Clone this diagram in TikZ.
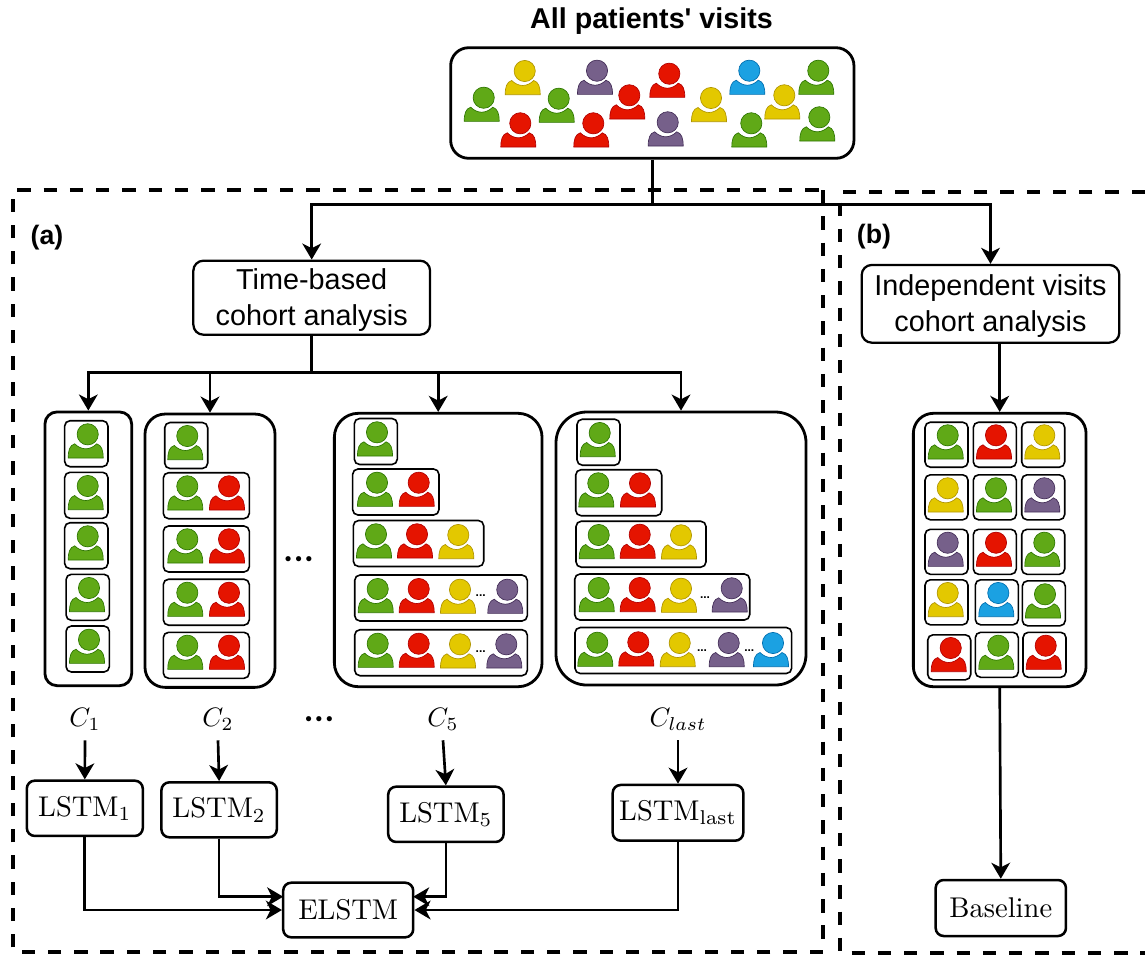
\documentclass[tikz,border=0pt]{standalone}
\usepackage{amsmath,amsfonts,amssymb}
\usepackage{fontspec}
\setsansfont{Liberation Sans}
\usepackage{tikz}
\usetikzlibrary{arrows.meta}

\definecolor{pgreen}{HTML}{60A917}
\definecolor{pgreend}{HTML}{2D7600}
\definecolor{pred}{HTML}{E51400}
\definecolor{predd}{HTML}{B20000}
\definecolor{pyellow}{HTML}{E3C800}
\definecolor{pyellowd}{HTML}{B09500}
\definecolor{ppurple}{HTML}{76608A}
\definecolor{ppurpled}{HTML}{432D57}
\definecolor{pblue}{HTML}{1BA1E2}
\definecolor{pblued}{HTML}{006EAF}

\newcommand{\lm}[1]{\scalebox{2.14}{#1}}
\newcommand{\cl}[1]{\scalebox{2}{#1}}

\tikzset{
	pics/patient/.style={code={
		\draw[draw=#1d,fill=#1,line width=0.5pt] (0,0) circle[radius=10.6];
		\draw[draw=#1d,fill=#1,line width=0.5pt] (-19.5,23.7) .. controls (-19.5,16) and (-18,11) .. (-13,9.5) .. controls (-10,12.5) and (-6,14.5) .. (-2,14.5) .. controls (2,14.5) and (6,12.5) .. (9,9.5) .. controls (14,11) and (15.5,16) .. (15.5,23.7) -- cycle;
	}}
}

\begin{document}
\begin{tikzpicture}[x=0.75pt,y=-0.75pt,
		box_size/.style 2 args={minimum width=#1*0.75pt,minimum height=#2*0.75pt},
		group_style/.style={draw=black,line width=2.1pt,inner sep=0pt},
		row_style/.style={draw=black,line width=1.2pt,rounded corners=4pt,inner sep=0pt},
		sans_style/.style={draw=black,line width=1.7pt,rounded corners=7.5pt,inner sep=0pt,align=center,font=\fontsize{21.6pt}{27pt}\selectfont\sffamily},
		lstm_style/.style={draw=black,line width=1.9pt,rounded corners=6pt,inner sep=0pt},
		label_style/.style={inner sep=0pt,minimum height=31.5pt},
		head_style/.style={inner sep=0pt,font=\fontsize{#1}{24pt}\selectfont\sffamily\bfseries},
		more_style/.style={inner sep=0pt,anchor=base,font=\fontsize{10pt}{12pt}\selectfont},
		tiny_style/.style={inner sep=0pt,font=\fontsize{9pt}{10pt}\selectfont\sffamily\bfseries},
		dash_style/.style={draw=black,line width=2.8pt,dash pattern=on 10pt off 9.7pt},
		edge_style/.style={draw=black,line width=2pt},
		arrow_style/.style={draw=black,line width=2pt,-{Stealth[length=12pt,width=14pt,inset=3.5pt]}}]

		\useasboundingbox (0,0) rectangle (1145,954);

		% dashed frames
		\draw[dash_style] (823,190) rectangle (13,951.7);
		\draw[dash_style] (1145,192.3) -- (840,192.3) -- (840,952.7) -- (1145,952.7);

		\node[head_style=21.5pt] (title) at (651.5,21.5) {All patients\textquotesingle{} visits};
		\node[head_style=20pt] (a) at (47,238) {(a)};
		\node[head_style=20pt] (b) at (874,237) {(b)};

		\node[group_style,rounded corners=13.5pt,box_size={403.3}{110.6}] (all) at (652.3,103) {};
		\node[sans_style,box_size={236.7}{74}] (time) at (311.7,297.7) {\rule{0pt}{18.5pt}Time-based\\cohort analysis};
		\node[sans_style,box_size={257.6}{77.7}] (indep) at (990.5,303.8) {\rule{0pt}{18.5pt}Independent visits\\cohort analysis};

		\node[group_style,rounded corners=9pt,box_size={86.7}{273.7}] (c1) at (88.3,548.8) {};
		\node[group_style,rounded corners=15pt,box_size={130}{273.3}] (c2) at (210,550.7) {};
		\node[group_style,rounded corners=18pt,box_size={207.7}{273.4}] (c5) at (438.2,550) {};
		\node[group_style,rounded corners=23pt,box_size={250}{273}] (clast) at (681,548.5) {};
		\node[group_style,rounded corners=15pt,box_size={172.7}{273.4}] (all_b) at (999.7,550) {};

		% first cohort
		\node[row_style,box_size={43.3}{46}] (r11) at (86.3,443.7) {};
		\node[row_style,box_size={43.3}{46}] (r12) at (86.3,495.3) {};
		\node[row_style,box_size={43.3}{46}] (r13) at (86.3,545.7) {};
		\node[row_style,box_size={43.3}{46}] (r14) at (87.7,597.3) {};
		\node[row_style,box_size={43.3}{46}] (r15) at (87.7,649) {};
		\pic at (87.7,434.3) {patient=pgreen};
		\pic at (87.7,486) {patient=pgreen};
		\pic at (87.7,536.3) {patient=pgreen};
		\pic at (89,588) {patient=pgreen};
		\pic at (89,639.7) {patient=pgreen};

		% second cohort
		\node[row_style,box_size={43}{46}] (r21) at (186.2,445.5) {};
		\node[row_style,box_size={86}{46}] (r22) at (206.3,495.7) {};
		\node[row_style,box_size={86}{46}] (r23) at (206.3,549) {};
		\node[row_style,box_size={86}{46}] (r24) at (206.3,602.2) {};
		\node[row_style,box_size={86}{46}] (r25) at (206.3,655.3) {};
		\pic at (187.3,436) {patient=pgreen};
		\pic at (187.3,486.3) {patient=pgreen};
		\pic at (229,486.3) {patient=pred};
		\pic at (187.3,539.3) {patient=pgreen};
		\pic at (229,539.3) {patient=pred};
		\pic at (187.3,592.7) {patient=pgreen};
		\pic at (229,592.7) {patient=pred};
		\pic at (187.3,645.7) {patient=pgreen};
		\pic at (229,645.7) {patient=pred};

		\node[more_style] (more1) at (298.7,562.3) {$\bullet\mkern1mu\bullet\mkern1mu\bullet$};

		% fifth cohort
		\node[row_style,box_size={43}{46}] (r51) at (375.8,441.5) {};
		\node[row_style,box_size={86.3}{46}] (r52) at (395.8,492) {};
		\node[row_style,box_size={130.4}{46}] (r53) at (418.5,543.5) {};
		\node[row_style,box_size={172.6}{46}] (r54) at (441,598) {};
		\node[row_style,box_size={172.6}{46}] (r55) at (441,652.7) {};
		\pic at (377,432.3) {patient=pgreen};
		\pic at (377,482.7) {patient=pgreen};
		\pic at (418.7,482.7) {patient=pred};
		\pic at (376,534.3) {patient=pgreen};
		\pic at (417,534.3) {patient=pred};
		\pic at (458.3,535) {patient=pyellow};
		\pic at (377.7,589) {patient=pgreen};
		\pic at (418.7,589) {patient=pred};
		\pic at (460,589.7) {patient=pyellow};
		\node[tiny_style] (d54) at (480.7,595.7) {...};
		\pic at (507.3,589.7) {patient=ppurple};
		\pic at (377.7,643.7) {patient=pgreen};
		\pic at (418.7,643.7) {patient=pred};
		\pic at (460,644.3) {patient=pyellow};
		\node[tiny_style] (d55) at (480.7,651.7) {...};
		\pic at (506.3,644.3) {patient=ppurple};

		% last cohort
		\node[row_style,box_size={43}{46}] (rl1) at (598.5,442.2) {};
		\node[row_style,box_size={86}{46}] (rl2) at (618.7,492.7) {};
		\node[row_style,box_size={130}{46}] (rl3) at (641,544.2) {};
		\node[row_style,box_size={175}{46}] (rl4) at (662.2,597) {};
		\node[row_style,box_size={216.7}{46}] (rl5) at (683.3,650.5) {};
		\pic at (599.7,433) {patient=pgreen};
		\pic at (598.3,483.3) {patient=pgreen};
		\pic at (640,483.3) {patient=pred};
		\pic at (598.7,535) {patient=pgreen};
		\pic at (639.7,534.7) {patient=pred};
		\pic at (681,535.3) {patient=pyellow};
		\pic at (598.7,588) {patient=pgreen};
		\pic at (639.7,588) {patient=pred};
		\pic at (681,588.7) {patient=pyellow};
		\node[tiny_style] (d64) at (705,597.3) {...};
		\pic at (731.7,588.3) {patient=ppurple};
		\pic at (597.3,642.7) {patient=pgreen};
		\pic at (638.3,642.3) {patient=pred};
		\pic at (679.7,643) {patient=pyellow};
		\node[tiny_style] (d65) at (702,650.3) {...};
		\pic at (728.7,643) {patient=ppurple};
		\node[tiny_style] (d66) at (749.3,650.3) {...};
		\pic at (773,643) {patient=pblue};

		% independent visits
		\node[row_style,box_size={43}{45}] (b11) at (946.5,444.7) {};
		\node[row_style,box_size={43}{45}] (b12) at (994.8,444.7) {};
		\node[row_style,box_size={43}{45}] (b13) at (1043.2,444.7) {};
		\node[row_style,box_size={43}{45}] (b21) at (946.5,497.3) {};
		\node[row_style,box_size={43}{45}] (b22) at (994.8,497.3) {};
		\node[row_style,box_size={43}{45}] (b23) at (1043.2,497.3) {};
		\node[row_style,box_size={43}{45}] (b31) at (946.5,551.8) {};
		\node[row_style,box_size={43}{45}] (b32) at (994.8,551.8) {};
		\node[row_style,box_size={43}{45}] (b33) at (1043.2,551.8) {};
		\node[row_style,box_size={43}{45}] (b41) at (946.5,602.3) {};
		\node[row_style,box_size={43}{45}] (b42) at (996.8,602.3) {};
		\node[row_style,box_size={43}{45}] (b43) at (1043.8,603.3) {};
		\node[row_style,box_size={43}{45}] (b51) at (949.2,657.3) {};
		\node[row_style,box_size={43}{45}] (b52) at (996.8,654.8) {};
		\node[row_style,box_size={43}{45}] (b53) at (1044.5,654.8) {};
		\pic at (947.7,435.3) {patient=pgreen};
		\pic at (996,435.3) {patient=pred};
		\pic at (1044.3,435.3) {patient=pyellow};
		\pic at (947.7,488.3) {patient=pyellow};
		\pic at (996,488.3) {patient=pgreen};
		\pic at (1044.3,488.3) {patient=ppurple};
		\pic at (947.7,542.7) {patient=ppurple};
		\pic at (996,542.7) {patient=pred};
		\pic at (1044.3,542.7) {patient=pgreen};
		\pic at (947.7,593) {patient=pyellow};
		\pic at (998.3,593) {patient=pblue};
		\pic at (1045,594.3) {patient=pgreen};
		\pic at (950.7,648) {patient=pred};
		\pic at (998.3,645.7) {patient=pgreen};
		\pic at (1045.7,645.7) {patient=pred};

		% all visits
		\pic at (483.7,97.7) {patient=pgreen};
		\pic at (524.7,71) {patient=pyellow};
		\pic at (558.7,98.7) {patient=pgreen};
		\pic at (520.3,123.3) {patient=pred};
		\pic at (597,70.7) {patient=ppurple};
		\pic at (593.3,123.3) {patient=pred};
		\pic at (629.3,95.3) {patient=pred};
		\pic at (669.3,73.7) {patient=pred};
		\pic at (667.7,122.3) {patient=ppurple};
		\pic at (711,98) {patient=pyellow};
		\pic at (749.3,70.7) {patient=pblue};
		\pic at (784.3,95.3) {patient=pyellow};
		\pic at (818.3,70.7) {patient=pgreen};
		\pic at (751.3,123.3) {patient=pgreen};
		\pic at (819.3,117.3) {patient=pgreen};

		% models
		\node[label_style] (l1) at (85,719) {\cl{$C_1$}};
		\node[label_style] (l2) at (218,719) {\cl{$C_2$}};
		\node[more_style] (more2) at (319,722.6) {$\bullet\mkern1mu\bullet\mkern1mu\bullet$};
		\node[label_style] (l5) at (443,719) {\cl{$C_5$}};
		\node[label_style] (l6) at (678,719) {\cl{$C_{last}$}};

		\node[lstm_style,box_size={116}{55.3}] (lstm1) at (84.8,808.3) {\lm{$\mathrm{LSTM}_1$}};
		\node[lstm_style,box_size={115.4}{55}] (lstm2) at (219.1,809.8) {\lm{$\mathrm{LSTM}_2$}};
		\node[lstm_style,box_size={115.4}{55.3}] (lstm5) at (445.9,814.3) {\lm{$\mathrm{LSTM}_5$}};
		\node[lstm_style,box_size={130.6}{55.7}] (lstm6) at (678,812.8) {\lm{$\mathrm{LSTM}_{\mathrm{last}}$}};
		\node[lstm_style,box_size={130}{54.6}] (elstm) at (348.2,910) {\lm{ELSTM}};
		\node[lstm_style,box_size={130.3}{56}] (base) at (1000.8,908) {\lm{Baseline}};

		\coordinate (split) at (652.3,204.3);
		\coordinate (branch) at (311.7,372.3);
		\coordinate (indep_s) at (999.7,342.7);
		\coordinate (elstm_w) at (283.2,896.7);
		\coordinate (elstm_e) at (413.2,896.7);

		\draw[edge_style]  (all.south) -- (split);
		\draw[arrow_style]  (split) -| (time.north);
		\draw[arrow_style]  (split) -| (indep.north);
		\draw[edge_style]  (time.south) -- (branch);
		\draw[arrow_style]  (branch) -| (c1.north);
		\draw[arrow_style]  (branch) -| (c2.north);
		\draw[arrow_style]  (branch) -| (c5.north);
		\draw[arrow_style]  (branch) -| (clast.north);
		\draw[arrow_style]  (indep_s) -- (all_b.north);
		\draw[arrow_style]  (all_b.south) -- (base.north);
		\draw[arrow_style]  (l1.south) -- (lstm1.north);
		\draw[arrow_style]  (l2.south) -- (lstm2.north);
		\draw[arrow_style]  (l5.south) -- (lstm5.north);
		\draw[arrow_style]  (l6.south) -- (lstm6.north);
		\draw[arrow_style]  (lstm1.south) |- (elstm.west);
		\draw[arrow_style]  (lstm2.south) |- (elstm_w);
		\draw[arrow_style]  (lstm5.south) |- (elstm_e);
		\draw[arrow_style]  (lstm6.south) |- (elstm.east);
\end{tikzpicture}
\end{document}
